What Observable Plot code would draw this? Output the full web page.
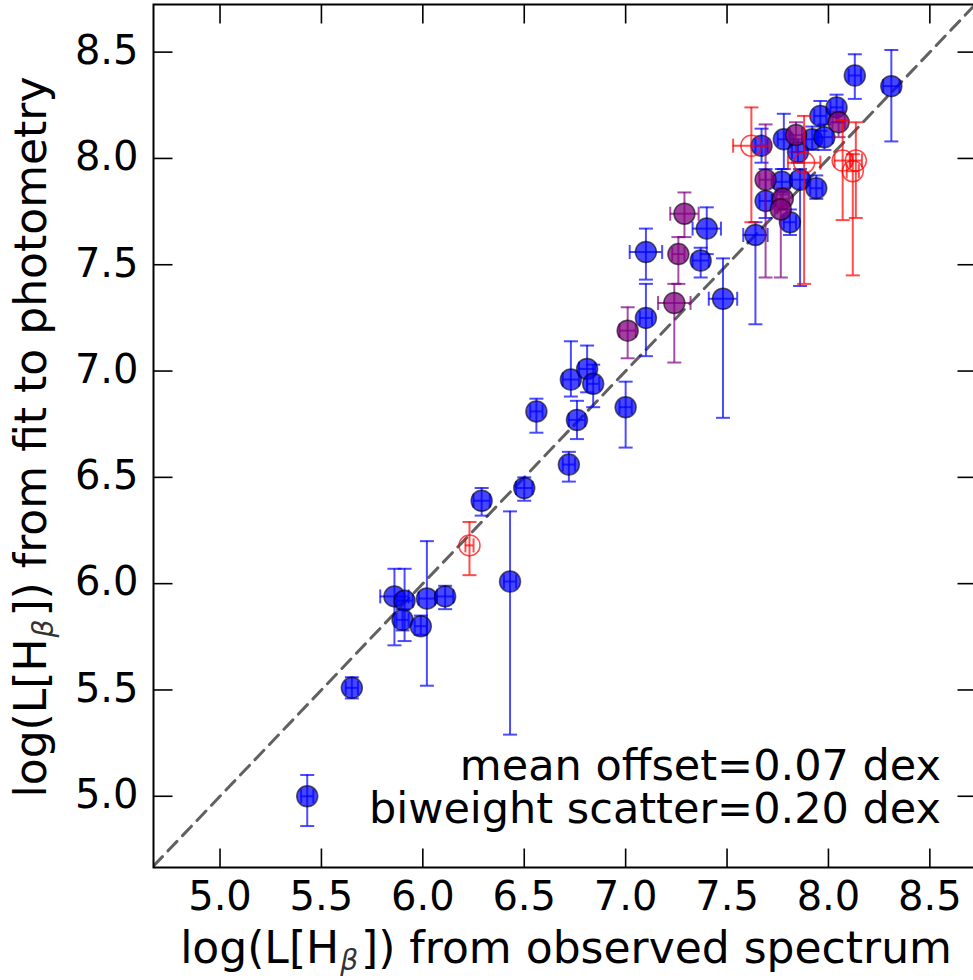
<!DOCTYPE html>
<html><head><meta charset="utf-8">
<script src="https://cdn.jsdelivr.net/npm/d3@7"></script>
<script src="https://cdn.jsdelivr.net/npm/@observablehq/plot@0.6"></script>
<style>body{margin:0;background:#fff;} #chart{position:absolute;left:0;top:0;}</style>
</head><body><div id="chart"></div>
<script>
const xDomain = [4.672, 8.73];
const yDomain = [4.665, 8.724];
const xTicks = [5.0, 5.5, 6.0, 6.5, 7.0, 7.5, 8.0, 8.5];
const yTicks = [5.0, 5.5, 6.0, 6.5, 7.0, 7.5, 8.0, 8.5];
const xLabelText = ["log(L[H", "β", "]) from observed spectrum"];
const yLabelText = ["log(L[H", "β", "]) from fit to photometry"];
const noteLines = ["mean offset=0.07 dex", "biweight scatter=0.20 dex"];

const blueX = [5.43,5.65,5.86,5.91,5.90,5.99,6.02,6.11,6.43,6.29,6.50,6.72,6.56,6.76,6.73,6.81,6.84,7.00,7.10,7.10,7.37,7.40,7.48,7.64,7.67,7.69,7.77,7.81,7.78,7.85,7.86,7.92,7.98,7.94,7.96,8.04,8.13,8.31];
const blueY = [5.00,5.51,5.94,5.92,5.83,5.80,5.93,5.94,6.01,6.39,6.45,6.56,6.81,6.77,6.96,7.01,6.94,6.83,7.25,7.56,7.52,7.67,7.34,7.64,8.06,7.80,7.89,7.70,8.09,8.03,7.90,8.09,8.10,7.86,8.20,8.24,8.39,8.34];
const blueYLo = [4.86,5.46,5.71,5.73,5.78,5.76,5.52,5.88,5.29,6.32,6.39,6.48,6.71,6.68,6.88,6.90,6.83,6.64,7.07,7.43,7.44,7.55,6.78,7.22,7.98,7.72,7.84,7.64,7.95,7.98,7.40,8.04,8.04,7.81,8.13,8.17,8.28,8.08];
const blueYHi = [5.10,5.56,6.07,6.07,5.88,5.85,6.20,5.99,6.34,6.45,6.50,6.62,6.87,6.86,7.14,7.12,7.03,6.95,7.41,7.67,7.58,7.77,7.53,7.70,8.14,7.95,7.95,7.76,8.21,8.09,7.95,8.15,8.16,7.92,8.27,8.30,8.49,8.51];
const blueXErr = [0.03,0.03,0.07,0.04,0.03,0.03,0.04,0.04,0.03,0.04,0.04,0.03,0.03,0.04,0.04,0.04,0.03,0.03,0.03,0.08,0.04,0.07,0.07,0.06,0.03,0.03,0.04,0.03,0.03,0.03,0.04,0.03,0.04,0.03,0.03,0.03,0.03,0.04];

const purpleX = [7.01,7.24,7.26,7.29,7.69,7.775,7.765,7.84,8.05];
const purpleY = [7.19,7.32,7.55,7.74,7.90,7.81,7.76,8.11,8.17];
const purpleYLo = [7.06,7.04,7.41,7.63,7.44,7.76,7.44,8.03,8.10];
const purpleYHi = [7.30,7.41,7.63,7.84,8.16,7.86,7.83,8.17,8.22];
const purpleXErr = [0.04,0.08,0.03,0.07,0.03,0.03,0.03,0.03,0.03];

const redX = [6.23,7.62,7.88,8.07,8.135,8.12];
const redY = [6.18,8.06,7.98,7.99,7.99,7.94];
const redYLo = [6.04,7.70,7.41,7.71,7.72,7.45];
const redYHi = [6.29,8.24,8.20,8.18,8.17,8.02];
const redXErr = [0.02,0.09,0.08,0.04,0.03,0.03];

function rows(xs, ys, ylo, yhi, xerr) {
  return xs.map((x, i) => ({x, y: ys[i], ylo: ylo[i], yhi: yhi[i], xlo: x - xerr[i], xhi: x + xerr[i]}));
}
const blue = rows(blueX, blueY, blueYLo, blueYHi, blueXErr);
const purple = rows(purpleX, purpleY, purpleYLo, purpleYHi, purpleXErr);
const red = rows(redX, redY, redYLo, redYHi, redXErr);

const CAP = 7, TL = 19;
const capH = {draw(c) { c.moveTo(-CAP, 0); c.lineTo(CAP, 0); }};
const capV = {draw(c) { c.moveTo(0, -CAP); c.lineTo(0, CAP); }};
const tickUp = {draw(c) { c.moveTo(0, 0); c.lineTo(0, -TL); }};
const tickDown = {draw(c) { c.moveTo(0, 0); c.lineTo(0, TL); }};
const tickRight = {draw(c) { c.moveTo(0, 0); c.lineTo(TL, 0); }};
const tickLeft = {draw(c) { c.moveTo(0, 0); c.lineTo(-TL, 0); }};

function errMarks(data, color) {
  const s = {stroke: color, strokeOpacity: 0.7, strokeWidth: 2};
  return [
    Plot.ruleX(data, {x: "x", y1: "ylo", y2: "yhi", ...s}),
    Plot.ruleY(data, {y: "y", x1: "xlo", x2: "xhi", ...s}),
    Plot.dot(data, {x: "x", y: "ylo", r: 1, symbol: capH, fill: "none", ...s}),
    Plot.dot(data, {x: "x", y: "yhi", r: 1, symbol: capH, fill: "none", ...s}),
    Plot.dot(data, {x: "xlo", y: "y", r: 1, symbol: capV, fill: "none", ...s}),
    Plot.dot(data, {x: "xhi", y: "y", r: 1, symbol: capV, fill: "none", ...s})
  ];
}

const lo = Math.max(xDomain[0], yDomain[0]);
const hi = Math.min(xDomain[1], yDomain[1]);
const fmt = d => d.toFixed(1);
const tickStyle = {r: 1, fill: "none", stroke: "black", strokeWidth: 1.6};

const chart = Plot.plot({
  width: 973,
  height: 980,
  marginLeft: 153,
  marginRight: -3,
  marginTop: 4,
  marginBottom: 113,
  style: {fontFamily: "DejaVu Sans", color: "black", background: "white"},
  x: {domain: xDomain, axis: null},
  y: {domain: yDomain, axis: null},
  marks: [
    Plot.line([lo, hi], {x: d => d, y: d => d, stroke: "black", strokeOpacity: 0.62, strokeWidth: 3, strokeDasharray: "13,8", clip: true}),
    ...errMarks(blue, "blue"),
    Plot.dot(blue, {x: "x", y: "y", r: 10.5, fill: "blue", fillOpacity: 0.72, stroke: "black", strokeOpacity: 0.6, strokeWidth: 1.5}),
    ...errMarks(purple, "purple"),
    Plot.dot(purple, {x: "x", y: "y", r: 10.5, fill: "purple", fillOpacity: 0.75, stroke: "black", strokeOpacity: 0.6, strokeWidth: 1.5}),
    ...errMarks(red, "red"),
    Plot.dot(red, {x: "x", y: "y", r: 10.5, fill: "none", stroke: "red", strokeOpacity: 0.7, strokeWidth: 1.5}),
    Plot.dot(xTicks, {x: d => d, frameAnchor: "bottom", symbol: tickUp, ...tickStyle}),
    Plot.dot(xTicks, {x: d => d, frameAnchor: "top", symbol: tickDown, ...tickStyle}),
    Plot.dot(yTicks, {y: d => d, frameAnchor: "left", symbol: tickRight, ...tickStyle}),
    Plot.dot(yTicks, {y: d => d, frameAnchor: "right", symbol: tickLeft, ...tickStyle}),
    Plot.text(xTicks, {x: d => d, frameAnchor: "bottom", text: fmt, lineAnchor: "top", dy: 14, fontSize: 40, fill: "black"}),
    Plot.text(yTicks, {y: d => d, frameAnchor: "left", text: fmt, textAnchor: "end", dx: -15, dy: -1, fontSize: 40, fill: "black"}),
    Plot.frame({stroke: "black", strokeWidth: 2})
  ]
});

const svg = d3.select(chart);
function label(g, parts) {
  const t = g.append("text").attr("font-family", "DejaVu Sans").attr("font-size", 44).attr("fill", "black").attr("text-anchor", "middle");
  t.append("tspan").text(parts[0]);
  t.append("tspan").attr("dy", 7).attr("font-size", 28).attr("font-style", "italic").attr("fill", "#333").attr("dx", 1).text(parts[1]);
  t.append("tspan").attr("dy", -7).attr("dx", 3).text(parts[2]);
}
label(svg.append("g").attr("transform", "translate(566,963)"), xLabelText);
label(svg.append("g").attr("transform", "translate(46,437) rotate(-90)"), yLabelText);

const note = svg.append("text").attr("font-family", "DejaVu Sans").attr("font-size", 43).attr("fill", "black").attr("text-anchor", "end");
noteLines.forEach((s, i) => note.append("tspan").attr("x", 941).attr("y", 780 + i * 43).text(s));

document.getElementById("chart").appendChild(chart);
</script>
</body></html>
